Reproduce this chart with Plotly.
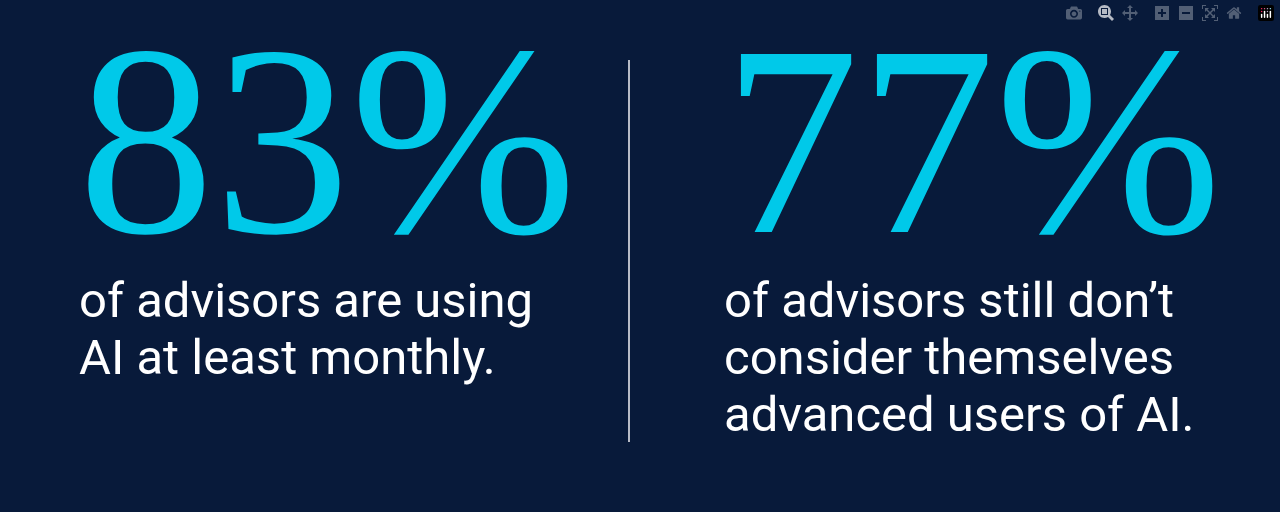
import plotly.graph_objects as go

W, H = 1280, 512
values = [83, 77]
captions = [
    ["of advisors are using", "AI at least monthly."],
    ["of advisors still don\u2019t", "consider themselves", "advanced users of AI."],
]
x_left = [80, 725]

BG = "#081a3a"
CYAN = "#00c9e9"

fig = go.Figure()

def px_x(v):
    return v / W

def px_y(v):
    return 1 - v / H

for i, (val, cap) in enumerate(zip(values, captions)):
    fig.add_annotation(
        x=px_x(x_left[i] - 4), y=px_y(140), xref="paper", yref="paper",
        text=f"{val}%", showarrow=False, xanchor="left", yanchor="middle",
        font=dict(family="Liberation Serif", size=272, color=CYAN),
    )
    for j, line in enumerate(cap):
        fig.add_annotation(
            x=px_x(x_left[i] - 3), y=px_y(300 + 57 * j), xref="paper", yref="paper",
            text=line, showarrow=False, xanchor="left", yanchor="middle",
            font=dict(family="Roboto", size=49, color="white"),
        )

fig.add_shape(type="line", xref="paper", yref="paper",
              x0=px_x(629), x1=px_x(629), y0=px_y(60), y1=px_y(442),
              line=dict(color="#b8bcc6", width=2))

fig.update_layout(
    width=W, height=H, margin=dict(l=0, r=0, t=0, b=0),
    paper_bgcolor=BG, plot_bgcolor=BG,
    xaxis=dict(visible=False), yaxis=dict(visible=False),
    showlegend=False,
)
fig.write_html("out.html", post_script="document.body.style.margin='0';document.body.style.background='#081a3a';")
